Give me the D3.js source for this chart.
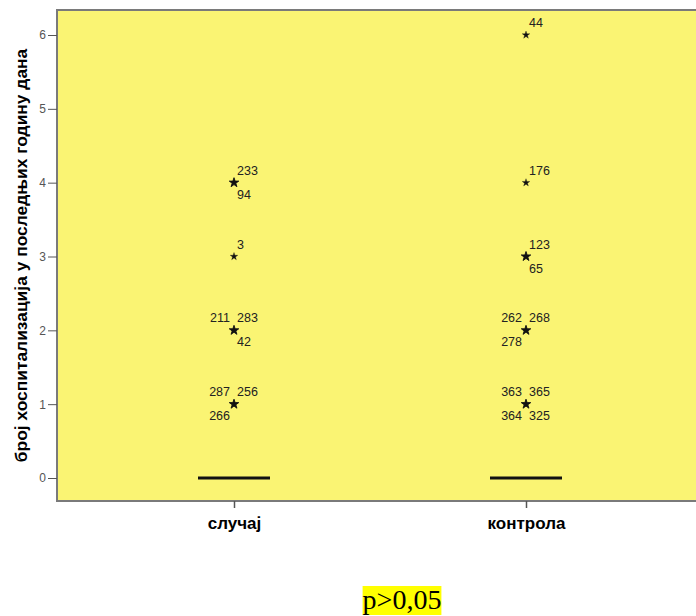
<!DOCTYPE html>
<html>
<head>
<meta charset="utf-8">
<script src="https://cdn.jsdelivr.net/npm/d3@7"></script>
<style>
  body { margin: 0; background: #fff; }
  svg { display: block; }
</style>
</head>
<body>
<div id="chart"></div>
<script>
// chart size
const width = 696;
const height = 616;
const plot = {left: 57, top: 10, right: 703, bottom: 501};

// data
const groups = ["случај", "контрола"];
const medians = [0, 0];
const yTicks = [0, 1, 2, 3, 4, 5, 6];
// extreme values: value and case labels with label position (ur, ul, lr, ll)
const outliersSlucaj = [
  {v: 4, labels: [["233", "ur"], ["94", "lr"]]},
  {v: 3, labels: [["3", "ur"]]},
  {v: 2, labels: [["211", "ul"], ["283", "ur"], ["42", "lr"]]},
  {v: 1, labels: [["287", "ul"], ["256", "ur"], ["266", "ll"]]}
];
const outliersKontrola = [
  {v: 6, labels: [["44", "ur"]]},
  {v: 4, labels: [["176", "ur"]]},
  {v: 3, labels: [["123", "ur"], ["65", "lr"]]},
  {v: 2, labels: [["262", "ul"], ["268", "ur"], ["278", "ll"]]},
  {v: 1, labels: [["363", "ul"], ["365", "ur"], ["364", "ll"], ["325", "lr"]]}
];
const yTitle = "број хоспитализација у последњих годину дана";
const note = "p>0,05";

const svg = d3.select("#chart")
  .append("svg")
  .attr("width", width)
  .attr("height", height);

// scales
const yScale = d3.scaleLinear()
  .domain([0, 6])
  .range([478, 35]);

const xScale = d3.scalePoint()
  .domain(groups)
  .range([234, 526]);

// plot background
svg.append("rect")
  .attr("x", plot.left)
  .attr("y", plot.top)
  .attr("width", plot.right - plot.left)
  .attr("height", plot.bottom - plot.top)
  .attr("fill", "#faf473")
  .attr("stroke", "#7a7a7a")
  .attr("stroke-width", 2);

// y axis
const yAxis = svg.append("g")
  .attr("transform", `translate(${plot.left}, 0)`)
  .call(d3.axisLeft(yScale).tickValues(yTicks).tickSize(9).tickPadding(2).tickFormat(d3.format("d")));
yAxis.select(".domain").remove();
yAxis.selectAll("line").attr("stroke", "#555");
yAxis.selectAll("text")
  .attr("font-family", "Arial, 'Liberation Sans', sans-serif")
  .attr("font-size", "12px")
  .attr("fill", "#555");

// x axis
const xAxis = svg.append("g")
  .attr("transform", `translate(0, ${plot.bottom})`)
  .call(d3.axisBottom(xScale).tickSize(7).tickPadding(9));
xAxis.select(".domain").remove();
xAxis.selectAll("line").attr("stroke", "#555").attr("stroke-width", 1.5);
xAxis.selectAll("text")
  .attr("font-family", "Arial, 'Liberation Sans', sans-serif")
  .attr("font-size", "17px")
  .attr("font-weight", "bold")
  .attr("fill", "#000");

// y title
svg.append("text")
  .attr("transform", `translate(27, ${(plot.top + plot.bottom) / 2}) rotate(-90)`)
  .attr("text-anchor", "middle")
  .attr("font-family", "Arial, 'Liberation Sans', sans-serif")
  .attr("font-size", "17.4px")
  .attr("font-weight", "bold")
  .text(yTitle);

// medians (collapsed boxes)
svg.selectAll(".median")
  .data(groups)
  .enter()
  .append("line")
    .attr("class", "median")
    .attr("x1", d => xScale(d) - 36)
    .attr("x2", d => xScale(d) + 36)
    .attr("y1", (d, i) => yScale(medians[i]))
    .attr("y2", (d, i) => yScale(medians[i]))
    .attr("stroke", "#111")
    .attr("stroke-width", 3);

// extreme values
const offsets = {
  ur: {dx: 3, dy: -8, anchor: "start"},
  ul: {dx: -4, dy: -8, anchor: "end"},
  lr: {dx: 3, dy: 16, anchor: "start"},
  ll: {dx: -4, dy: 16, anchor: "end"}
};

function drawOutliers(group, list) {
  const cx = xScale(group);
  const g = svg.append("g");
  list.forEach(o => {
    const many = o.labels.length > 1;
    g.append("path")
      .attr("transform", `translate(${cx}, ${yScale(o.v)})`)
      .attr("d", d3.symbol().type(d3.symbolStar).size(many ? 28 : 18)())
      .attr("fill", "#111")
      .attr("stroke", "#111")
      .attr("stroke-width", many ? 0.9 : 0.3);
    o.labels.forEach(([txt, pos]) => {
      const off = offsets[pos];
      g.append("text")
        .attr("x", cx + off.dx)
        .attr("y", yScale(o.v) + off.dy)
        .attr("text-anchor", off.anchor)
        .attr("font-family", "Arial, 'Liberation Sans', sans-serif")
        .attr("font-size", "12.5px")
        .attr("fill", "#222")
        .text(txt);
    });
  });
}
drawOutliers(groups[0], outliersSlucaj);
drawOutliers(groups[1], outliersKontrola);

// p value note
const noteText = svg.append("text")
  .attr("x", 402)
  .attr("y", 609)
  .attr("text-anchor", "middle")
  .attr("font-family", "'Liberation Serif', 'Times New Roman', serif")
  .attr("font-size", "28px")
  .attr("fill", "#000")
  .text(note);
const bb = noteText.node().getBBox();
svg.insert("rect", () => noteText.node())
  .attr("x", bb.x)
  .attr("y", bb.y + 2)
  .attr("width", bb.width)
  .attr("height", bb.height - 2)
  .attr("fill", "#ffff00");
</script>
</body>
</html>
